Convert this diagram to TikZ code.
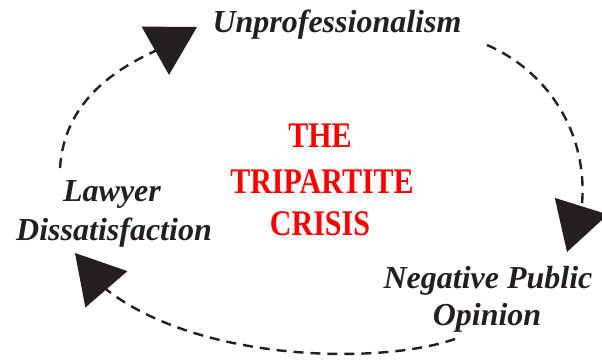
\documentclass[tikz,border=0pt]{standalone}
\usepackage{fontspec}
\usepackage{graphicx}
\setmainfont{Liberation Serif}
\usetikzlibrary{arrows.meta}
\definecolor{inkgray}{HTML}{231F20}
\definecolor{crisisred}{HTML}{FF0000}
\newcommand{\tallcaps}[1]{\scalebox{1}[1.2]{#1}}
\begin{document}
\begin{tikzpicture}[x=1pt,y=-1pt,
  label/.style={font=\fontsize{32}{36}\selectfont\bfseries\itshape, text=inkgray, anchor=base, inner sep=0pt},
  core/.style={font=\fontsize{30}{34}\selectfont\bfseries, text=crisisred, anchor=base, inner sep=0pt},
  cycle/.style={draw=inkgray, line width=2.4pt, dash pattern=on 10pt off 7pt,
    -{Triangle[length=48pt,width=55pt]}, fill=none}]
\useasboundingbox (0,0) rectangle (602,362);

% the three stages of the cycle
\node[label] (unprof) at (337,32) {Unprofessionalism};
\node[label] (npo1) at (488,288) {Negative Public};
\node[label] (npo2) at (487,325) {Opinion};
\node[label] (law1) at (112,201) {Lawyer};
\node[label] (law2) at (114,240) {Dissatisfaction};

% title in the middle
\node[core] (t1) at (320,147) {\tallcaps{THE}};
\node[core] (t2) at (322,193) {\tallcaps{TRIPARTITE}};
\node[core] (t3) at (320,235) {\tallcaps{CRISIS}};

% dashed arrows running round the cycle
\coordinate (a1s) at (487,45);
\coordinate (a1b) at (582,204);
\coordinate (a1t) at (567,252);
\coordinate (a2s) at (455,339);
\coordinate (a2b) at (107,290);
\coordinate (a2t) at (75,253);
\coordinate (a3s) at (60,168);
\coordinate (a3b) at (153,52);
\coordinate (a3t) at (197,27);

\draw[cycle] (a1s) .. controls (545,70) and (588,130) .. (a1b) -- (a1t);
\draw[cycle] (a2s) .. controls (380,365) and (200,362) .. (a2b) -- (a2t);
\draw[cycle] (a3s) .. controls (64,105) and (110,72) .. (a3b) -- (a3t);
\end{tikzpicture}
\end{document}
